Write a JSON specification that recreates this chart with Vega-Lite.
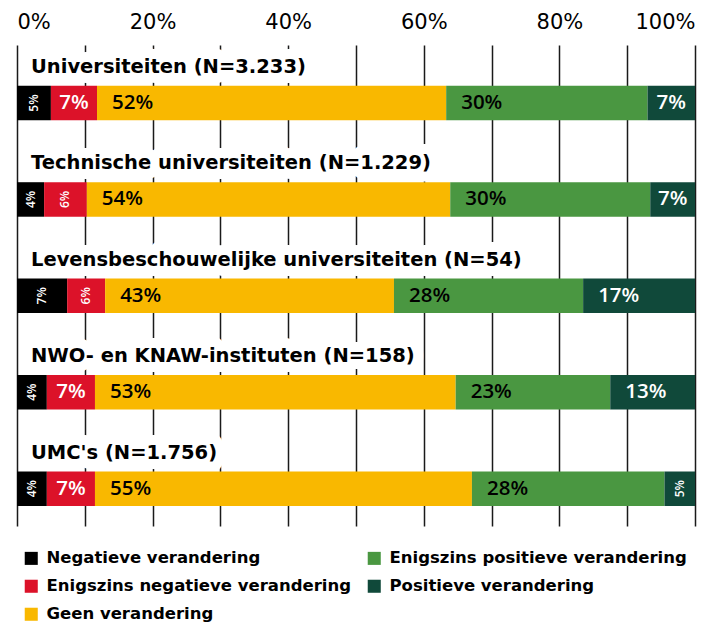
{
  "$schema": "https://vega.github.io/schema/vega-lite/v6.json",
  "width": 678,
  "height": 481,
  "autosize": {"type": "none"},
  "padding": {"left": 17, "top": 45, "right": 19, "bottom": 102},
  "background": "white",
  "config": {
    "view": {"stroke": null},
    "font": "DejaVu Sans"
  },
  "data": {
    "values": [
      {"group": "Universiteiten (N=3.233)", "cat": "Negatieve verandering", "value": 5.0, "label": "5%"},
      {"group": "Universiteiten (N=3.233)", "cat": "Enigszins negatieve verandering", "value": 6.8, "label": "7%"},
      {"group": "Universiteiten (N=3.233)", "cat": "Geen verandering", "value": 51.5, "label": "52%"},
      {"group": "Universiteiten (N=3.233)", "cat": "Enigszins positieve verandering", "value": 29.7, "label": "30%"},
      {"group": "Universiteiten (N=3.233)", "cat": "Positieve verandering", "value": 7.0, "label": "7%"},
      {"group": "Technische universiteiten (N=1.229)", "cat": "Negatieve verandering", "value": 4.0, "label": "4%"},
      {"group": "Technische universiteiten (N=1.229)", "cat": "Enigszins negatieve verandering", "value": 6.3, "label": "6%"},
      {"group": "Technische universiteiten (N=1.229)", "cat": "Geen verandering", "value": 53.6, "label": "54%"},
      {"group": "Technische universiteiten (N=1.229)", "cat": "Enigszins positieve verandering", "value": 29.5, "label": "30%"},
      {"group": "Technische universiteiten (N=1.229)", "cat": "Positieve verandering", "value": 6.6, "label": "7%"},
      {"group": "Levensbeschouwelijke universiteiten (N=54)", "cat": "Negatieve verandering", "value": 7.4, "label": "7%"},
      {"group": "Levensbeschouwelijke universiteiten (N=54)", "cat": "Enigszins negatieve verandering", "value": 5.6, "label": "6%"},
      {"group": "Levensbeschouwelijke universiteiten (N=54)", "cat": "Geen verandering", "value": 42.6, "label": "43%"},
      {"group": "Levensbeschouwelijke universiteiten (N=54)", "cat": "Enigszins positieve verandering", "value": 27.9, "label": "28%"},
      {"group": "Levensbeschouwelijke universiteiten (N=54)", "cat": "Positieve verandering", "value": 16.5, "label": "17%"},
      {"group": "NWO- en KNAW-instituten (N=158)", "cat": "Negatieve verandering", "value": 4.4, "label": "4%"},
      {"group": "NWO- en KNAW-instituten (N=158)", "cat": "Enigszins negatieve verandering", "value": 7.1, "label": "7%"},
      {"group": "NWO- en KNAW-instituten (N=158)", "cat": "Geen verandering", "value": 53.2, "label": "53%"},
      {"group": "NWO- en KNAW-instituten (N=158)", "cat": "Enigszins positieve verandering", "value": 22.8, "label": "23%"},
      {"group": "NWO- en KNAW-instituten (N=158)", "cat": "Positieve verandering", "value": 12.5, "label": "13%"},
      {"group": "UMC's (N=1.756)", "cat": "Negatieve verandering", "value": 4.4, "label": "4%"},
      {"group": "UMC's (N=1.756)", "cat": "Enigszins negatieve verandering", "value": 7.1, "label": "7%"},
      {"group": "UMC's (N=1.756)", "cat": "Geen verandering", "value": 55.6, "label": "55%"},
      {"group": "UMC's (N=1.756)", "cat": "Enigszins positieve verandering", "value": 28.4, "label": "28%"},
      {"group": "UMC's (N=1.756)", "cat": "Positieve verandering", "value": 4.5, "label": "5%"}
    ]
  },
  "transform": [
    {"calculate": "indexof(['Negatieve verandering','Enigszins negatieve verandering','Geen verandering','Enigszins positieve verandering','Positieve verandering'], datum.cat)", "as": "k"},
    {"stack": "value", "groupby": ["group"], "sort": [{"field": "k", "order": "ascending"}], "as": ["x0", "x1"]},
    {"calculate": "(datum.x0 + datum.x1) / 2", "as": "xm"}
  ],
  "encoding": {
    "y": {
      "field": "group",
      "type": "nominal",
      "sort": null,
      "scale": {"paddingInner": 0.642, "paddingOuter": 0.316, "align": 0.67},
      "axis": null
    }
  },
  "layer": [
    {
      "transform": [{"filter": "datum.k == 0"}],
      "mark": {"type": "text", "align": "left", "baseline": "middle", "dx": 14, "dy": -36, "font": "DejaVu Sans", "fontSize": 19.5, "fontWeight": "bold", "color": "#ffffff", "stroke": "#ffffff", "strokeWidth": 20, "strokeJoin": "round"},
      "encoding": {
        "x": {"datum": 0, "type": "quantitative"},
        "text": {"field": "group"}
      }
    },
    {
      "mark": {"type": "bar"},
      "encoding": {
        "x": {
          "field": "x0",
          "type": "quantitative",
          "scale": {"domain": [0, 100], "nice": false},
          "axis": {
            "orient": "top",
            "title": null,
            "values": [0, 10, 20, 30, 40, 50, 60, 70, 80, 90, 100],
            "labelExpr": "datum.value % 20 == 0 ? datum.value + '%' : ''",
            "grid": true,
            "gridColor": "#1a1a1a",
            "gridWidth": 1.5,
            "domain": false,
            "ticks": false,
            "tickSize": 0,
            "labelPadding": 13,
            "labelFlush": true,
            "labelFont": "DejaVu Sans",
            "labelFontSize": 21,
            "labelFontWeight": "normal",
            "labelColor": "#000000"
          }
        },
        "x2": {"field": "x1"},
        "color": {
          "field": "cat",
          "type": "nominal",
          "scale": {
            "domain": ["Negatieve verandering", "Enigszins negatieve verandering", "Geen verandering", "Enigszins positieve verandering", "Positieve verandering"],
            "range": ["#000000", "#dc1229", "#f9b800", "#4a9741", "#10493a"]
          },
          "legend": {
            "title": null,
            "orient": "none",
            "legendX": 6,
            "legendY": 505,
            "columns": 2,
            "direction": "vertical",
            "columnPadding": 14,
            "rowPadding": 11,
            "padding": 0,
            "symbolType": "square",
            "symbolSize": 170,
            "symbolStrokeWidth": 0,
            "labelFont": "DejaVu Sans",
            "labelFontSize": 16.5,
            "labelFontWeight": "bold",
            "labelColor": "#000000",
            "labelOffset": 7,
            "labelLimit": 400
          }
        }
      }
    },
    {
      "transform": [{"filter": "datum.k == 0"}],
      "mark": {"type": "text", "align": "left", "baseline": "middle", "dx": 14, "dy": -36, "font": "DejaVu Sans", "fontSize": 19.5, "fontWeight": "bold", "color": "#000000"},
      "encoding": {
        "x": {"datum": 0, "type": "quantitative"},
        "text": {"field": "group"}
      }
    },
    {
      "transform": [{"filter": "datum.value >= 10"}],
      "mark": {"type": "text", "align": "left", "baseline": "middle", "dx": 15, "font": "Open Sans", "fontSize": 20.5, "fontWeight": 600},
      "encoding": {
        "x": {"field": "x0", "type": "quantitative"},
        "text": {"field": "label"},
        "color": {"condition": {"test": "datum.cat == 'Positieve verandering'", "value": "#ffffff"}, "value": "#000000"}
      }
    },
    {
      "transform": [{"filter": "datum.value < 10 && datum.k != 0 && datum.value >= 6.5"}],
      "mark": {"type": "text", "align": "center", "baseline": "middle", "font": "Open Sans", "fontSize": 20.5, "fontWeight": 600, "color": "#ffffff"},
      "encoding": {
        "x": {"field": "xm", "type": "quantitative"},
        "text": {"field": "label"}
      }
    },
    {
      "transform": [{"filter": "datum.k == 0 || datum.value < 6.5"}],
      "mark": {"type": "text", "align": "center", "baseline": "middle", "angle": 270, "font": "Open Sans", "fontSize": 12, "fontWeight": 600, "color": "#ffffff"},
      "encoding": {
        "x": {"field": "xm", "type": "quantitative"},
        "text": {"field": "label"}
      }
    }
  ]
}
